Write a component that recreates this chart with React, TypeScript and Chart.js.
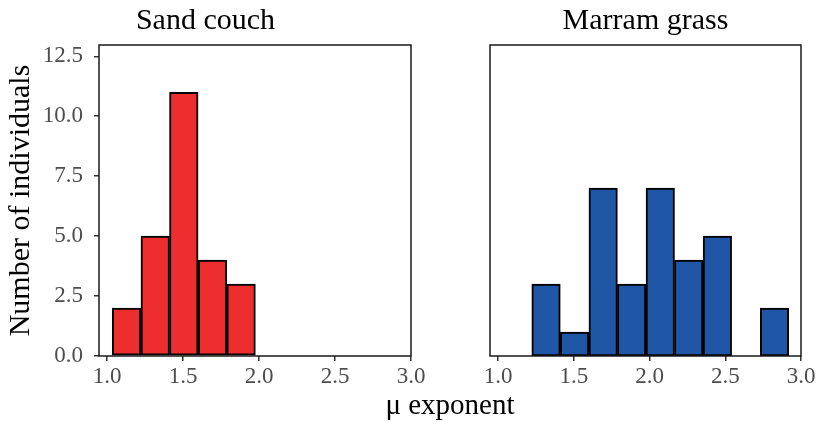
import React, { useEffect, useRef } from "react";
import { Chart, registerables } from "chart.js";

Chart.register(...registerables);

const panelTitles = ["Sand couch", "Marram grass"];
const sandCouchBinCenters = [1.128, 1.317, 1.505, 1.694, 1.882];
const sandCouchCounts = [2, 5, 11, 4, 3];
const marramBinCenters = [1.317, 1.505, 1.694, 1.882, 2.071, 2.259, 2.448, 2.825];
const marramCounts = [3, 1, 7, 3, 7, 4, 5, 2];
const xTickValues = [1.0, 1.5, 2.0, 2.5, 3.0];
const yTickValues = [0, 2.5, 5, 7.5, 10, 12.5];
const xAxisTitle = "μ exponent";
const yAxisTitle = "Number of individuals";

const FONT = "'Liberation Serif', 'Times New Roman', serif";

const panelBorder = {
  id: "panelBorder",
  afterDatasetsDraw(chart: any) {
    const { ctx, chartArea: a } = chart;
    ctx.save();
    ctx.strokeStyle = "#1a1a1a";
    ctx.lineWidth = 1.5;
    ctx.strokeRect(a.left, a.top, a.right - a.left, a.bottom - a.top);
    ctx.restore();
  },
};

function makeConfig(title: string, centers: number[], counts: number[], color: string, showY: boolean, padding: any): any {
  return {
    type: "bar",
    data: {
      datasets: [
        {
          data: centers.map((c, i) => ({ x: c, y: counts[i] })),
          backgroundColor: color,
          borderColor: "#000",
          borderWidth: 2,
          borderSkipped: false,
          barPercentage: 1,
          categoryPercentage: 1,
        },
      ],
    },
    options: {
      responsive: false,
      animation: false,
      layout: { padding },
      plugins: {
        legend: { display: false },
        tooltip: { enabled: false },
        title: {
          display: true,
          text: title,
          color: "#000",
          font: { family: FONT, size: 30, weight: "normal" },
          padding: { top: 3, bottom: 6 },
        },
      },
      scales: {
        x: {
          type: "linear",
          offset: false,
          min: 0.947,
          max: 3.0,
          afterBuildTicks: (s: any) => {
            s.ticks = xTickValues.map((v) => ({ value: v }));
          },
          afterFit: (s: any) => {
            s.height = 71;
          },
          ticks: {
            autoSkip: false,
            maxRotation: 0,
            color: "#4d4d4d",
            padding: 2,
            font: { family: FONT, size: 23 },
            callback: (v: any) => Number(v).toFixed(1),
          },
          grid: {
            display: true,
            offset: false,
            drawOnChartArea: false,
            drawTicks: true,
            tickLength: 5,
            color: "#333",
            lineWidth: 1.5,
          },
          border: { display: false },
        },
        y: {
          type: "linear",
          display: showY,
          min: 0,
          max: 12.97,
          afterBuildTicks: (s: any) => {
            s.ticks = yTickValues.map((v) => ({ value: v }));
          },
          afterFit: (s: any) => {
            if (showY) s.width = 99;
          },
          ticks: {
            color: "#4d4d4d",
            padding: 11,
            font: { family: FONT, size: 23 },
            callback: (v: any) => Number(v).toFixed(1),
          },
          grid: {
            display: true,
            drawOnChartArea: false,
            drawTicks: true,
            tickLength: 5,
            color: "#333",
            lineWidth: 1.5,
          },
          border: { display: false },
          title: {
            display: true,
            text: yAxisTitle,
            color: "#000",
            font: { family: FONT, size: 30, weight: "normal" },
            padding: { top: 3, bottom: 0 },
          },
        },
      },
    },
    plugins: [panelBorder],
  };
}

function Panel(props: { left: number; width: number; config: any }) {
  const ref = useRef<HTMLCanvasElement>(null);
  useEffect(() => {
    if (!ref.current) return;
    const chart = new Chart(ref.current, props.config);
    return () => chart.destroy();
  }, []);
  return (
    <div style={{ position: "absolute", left: props.left, top: 0, width: props.width, height: 427 }}>
      <canvas ref={ref} width={props.width} height={427} style={{ width: props.width, height: 427 }} />
    </div>
  );
}

export default function App() {
  const leftCfg = makeConfig(panelTitles[0], sandCouchBinCenters, sandCouchCounts, "#ee2e2e", true, {
    left: 0,
    right: 19,
    top: 0,
    bottom: 0,
  });
  const rightCfg = makeConfig(panelTitles[1], marramBinCenters, marramCounts, "#1f56a5", false, {
    left: 60,
    right: 18,
    top: 0,
    bottom: 0,
  });
  return (
    <div style={{ position: "fixed", left: 0, top: 0, width: 819, height: 427, background: "#fff", overflow: "hidden" }}>
      <Panel left={0} width={430} config={leftCfg} />
      <Panel left={430} width={389} config={rightCfg} />
      <div
        style={{
          position: "absolute",
          left: 330,
          width: 240,
          top: 390,
          textAlign: "center",
          fontFamily: FONT,
          fontSize: 29,
          lineHeight: "29px",
          color: "#000",
        }}
      >
        {xAxisTitle}
      </div>
    </div>
  );
}
